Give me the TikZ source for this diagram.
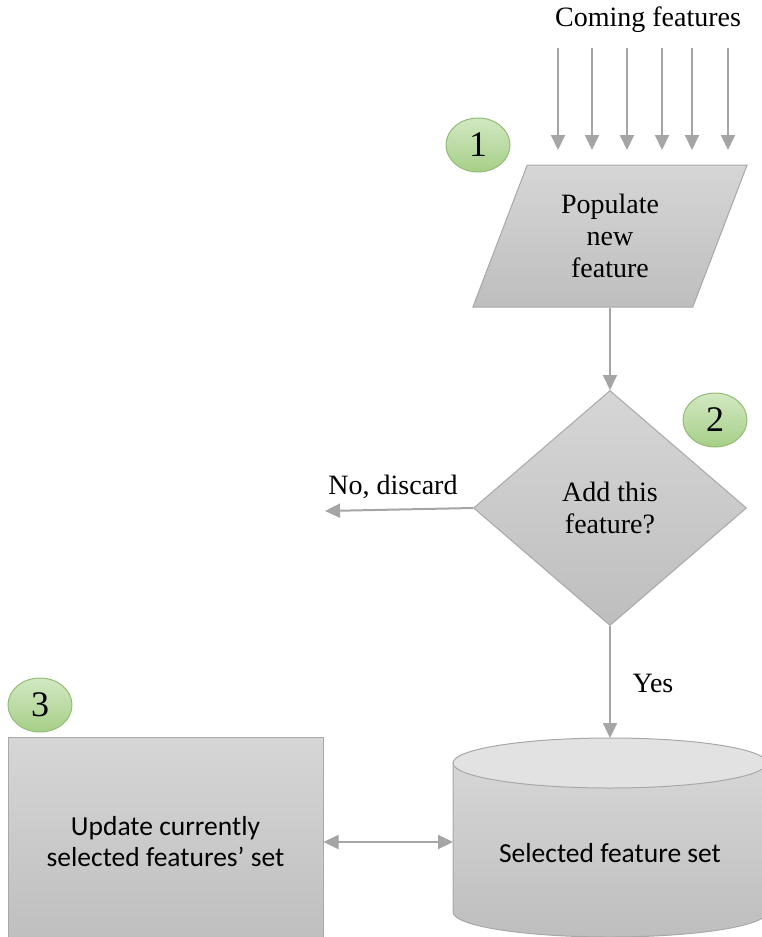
\documentclass[tikz,border=0pt]{standalone}
\usepackage{fontspec}
\setmainfont{Liberation Serif}
\newfontfamily\calibrifont{Carlito}
\usetikzlibrary{shapes.geometric, arrows.meta, calc}

\definecolor{arrowgray}{HTML}{A5A5A5}
\definecolor{boxline}{HTML}{A8A8A8}
\definecolor{grayhi}{HTML}{D6D6D6}
\definecolor{graylo}{HTML}{BEBEBE}
\definecolor{capgray}{HTML}{E2E2E2}
\definecolor{badgehi}{HTML}{D2E8C2}
\definecolor{badgelo}{HTML}{A6CF88}
\definecolor{badgeline}{HTML}{93BD74}

\tikzset{
    feed/.style={draw=arrowgray, line width=2pt, -{Triangle[width=14pt,length=15pt]}},
    twoway/.style={draw=arrowgray, line width=2pt, {Triangle[width=14pt,length=15pt]}-{Triangle[width=14pt,length=15pt]}},
    graybody/.style={draw=boxline, line width=1pt, top color=grayhi, bottom color=graylo},
    badge/.style={ellipse, draw=badgeline, line width=1pt, top color=badgehi, bottom color=badgelo,
        minimum width=64pt, minimum height=54pt, inner sep=0pt, font=\fontsize{36}{36}\selectfont},
    serifbig/.style={font=\fontsize{28}{32}\selectfont, align=center},
    sansbig/.style={font=\calibrifont\fontsize{27.5}{31}\selectfont, align=center},
}

\begin{document}
\begin{tikzpicture}[x=1pt, y=-1pt]
    \useasboundingbox (0,0) rectangle (761,937);

    % incoming features
    \node[font=\fontsize{28}{30}\selectfont] (coming) at (648,20) {Coming features};
    \foreach \x [count=\i] in {558,592,627,662,692,728} {
        \coordinate (src\i) at (\x,48);
        \coordinate (dst\i) at (\x,150);
        \draw[feed] (src\i) -- (dst\i);
    }

    % step 1
    \node[graybody, serifbig, trapezium, trapezium left angle=69, trapezium right angle=111,
        minimum width=274pt, minimum height=142pt, inner sep=0pt]
        (pop) at (610,236) {Populate\\new\\feature};
    \node[badge] (one) at (478,145) {1};

    % step 2
    \node[graybody, serifbig, diamond, aspect=1.16, minimum width=273pt, minimum height=235pt, inner sep=0pt]
        (ask) at (610,508) {Add this\\feature?};
    \node[badge] (two) at (715,420) {2};
    \draw[feed] (pop.center |- pop.south) -- (ask.north);

    \coordinate (gone) at (325,511);
    \draw[feed] (ask.west) -- (gone);
    \node[serifbig] (nolab) at (393,487) {No, discard};

    % selected feature set
    \draw[graybody] (453,763) -- (453,912) arc[start angle=180, end angle=0, x radius=157, y radius=25]
        -- (767,763) -- cycle;
    \draw[draw=boxline, line width=1pt, fill=capgray] (610,763) ellipse[x radius=157, y radius=25];
    \node[sansbig] (store) at (610,853) {Selected feature set};
    \coordinate (storetop) at (610,738);
    \coordinate (storeleft) at (453,842);

    \draw[feed] (ask.south) -- (storetop);
    \node[serifbig] (yeslab) at (653,683) {Yes};

    % step 3
    \node[graybody, sansbig, minimum width=315pt, minimum height=210pt, inner sep=0pt]
        (upd) at (165.5,842) {Update currently\\selected features’ set};
    \node[badge] (three) at (40,705) {3};
    \draw[twoway] (upd.east) -- (storeleft);
\end{tikzpicture}
\end{document}
